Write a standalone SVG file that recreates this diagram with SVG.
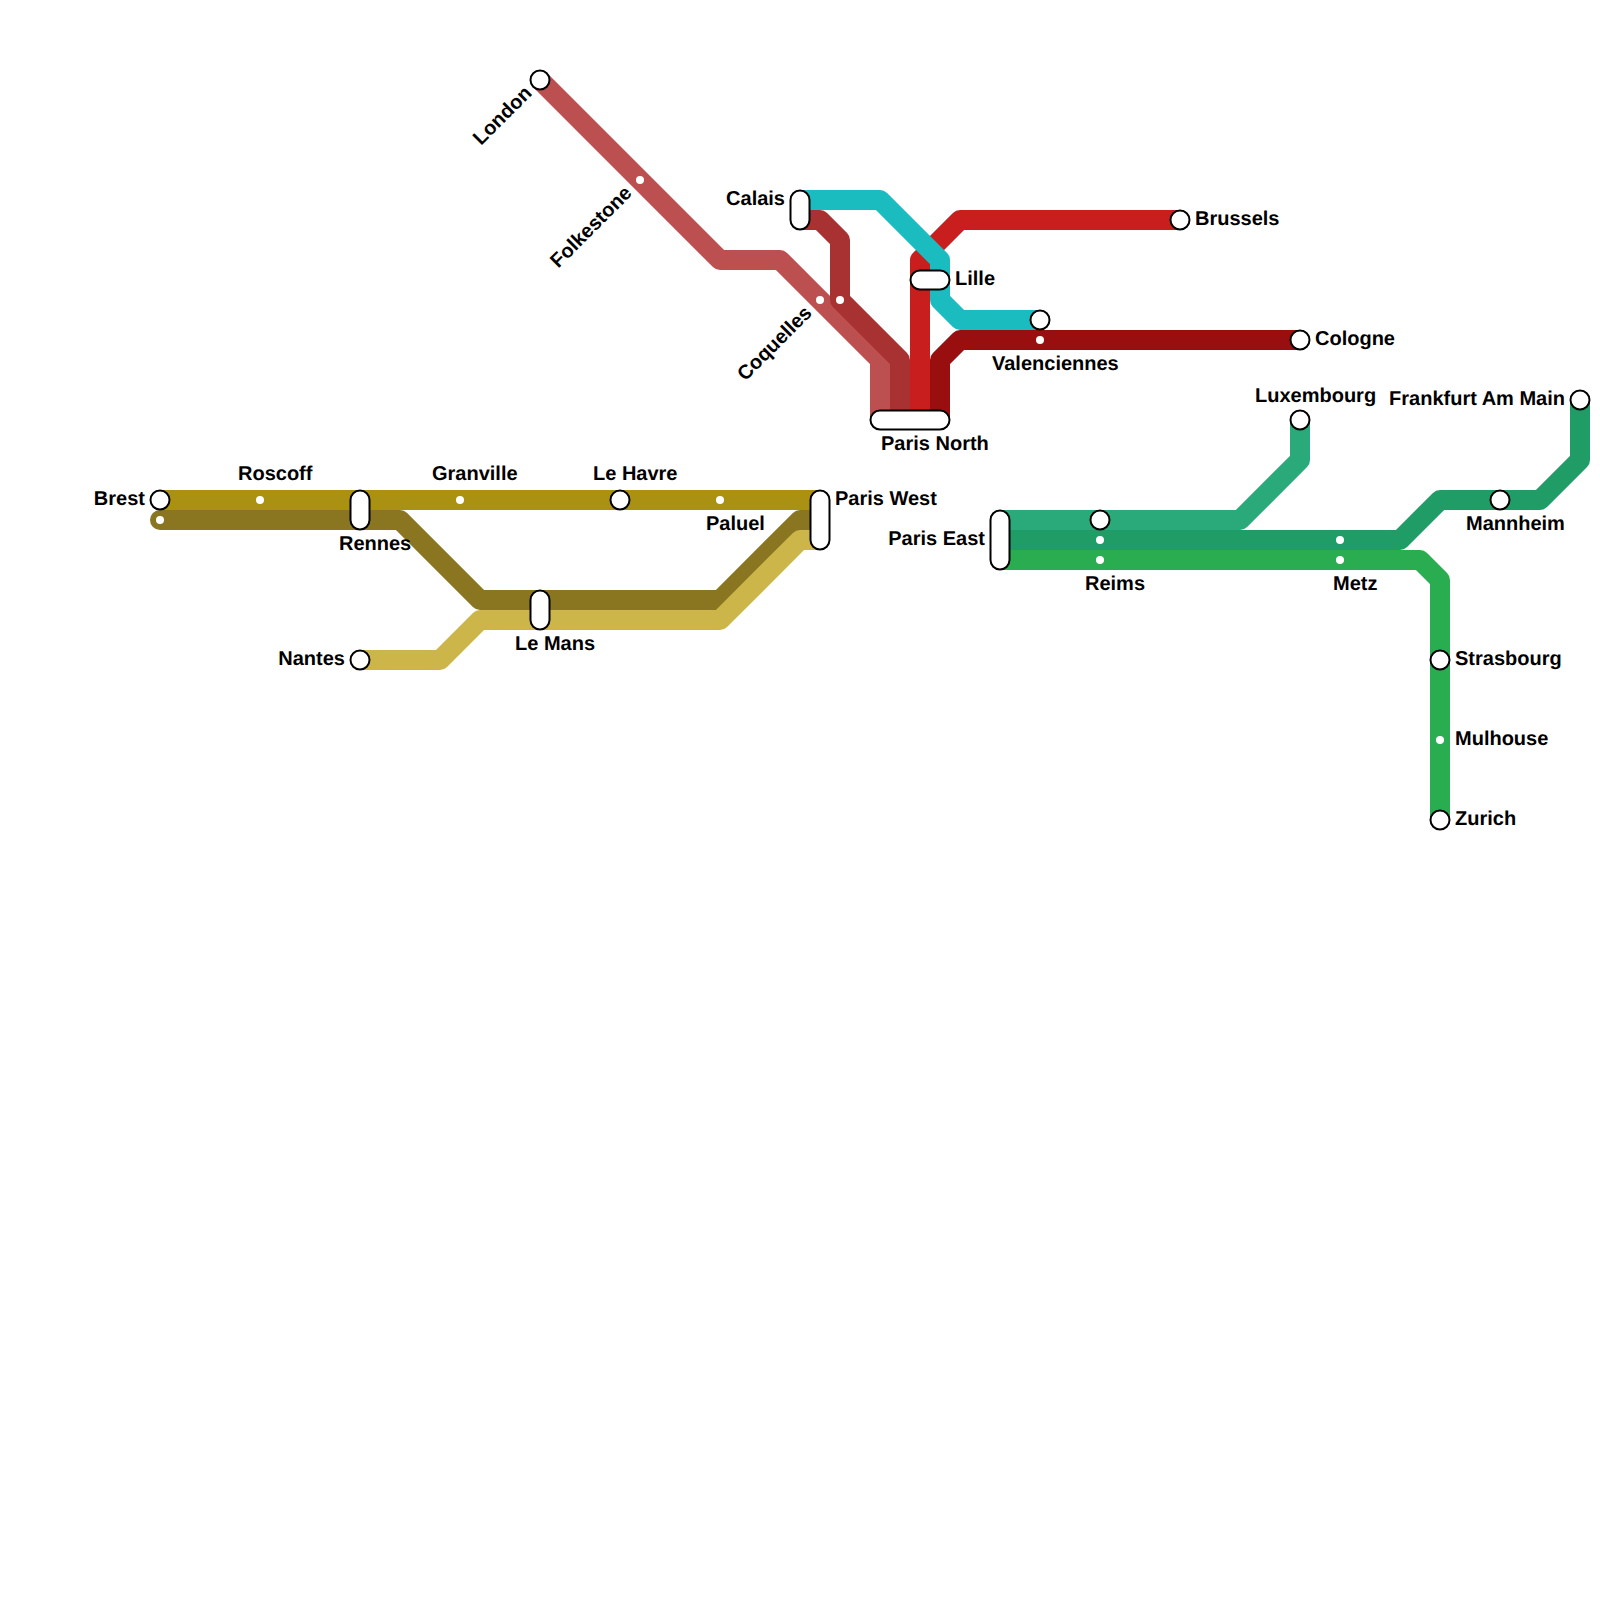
<svg xmlns="http://www.w3.org/2000/svg" width="1600" height="1600" viewBox="0 0 1600 1600">
<style>
.l{fill:none;stroke-width:20;stroke-linecap:round;stroke-linejoin:round}
.s{fill:#fff;stroke:#000;stroke-width:2}
.d{fill:#fff}
text{font-family:"Liberation Sans",Arial,sans-serif;font-weight:700;font-size:20px;fill:#000;text-rendering:geometricPrecision}
.e{text-anchor:end}
</style>
<rect width="1600" height="1600" fill="#fff"/>
<g id="connectors">
<path class="l" stroke="#aa9112" d="M160 500H820"/>
<path class="l" stroke="#8a7620" d="M160 520H400L480 600H720L800 520H820"/>
<path class="l" stroke="#ccb649" d="M360 660H440L480 620H720L800 540H820"/>
<path class="l" stroke="#bc4f4f" d="M540 80L720 260H780L880 360V420"/>
<path class="l" stroke="#a83232" d="M800 220H820L840 240V300L900 360V420"/>
<path class="l" stroke="#c81e1e" d="M1180 220H960L920 260V420"/>
<path class="l" stroke="#990f0f" d="M1300 340H960L940 360V420"/>
<path class="l" stroke="#1abcc0" d="M800 200H880L940 260V300L960 320H1040"/>
<path class="l" stroke="#2aaa7a" d="M1000 520H1240L1300 460V420"/>
<path class="l" stroke="#209c66" d="M1000 540H1400L1440 500H1540L1580 460V400"/>
<path class="l" stroke="#2aad50" d="M1000 560H1420L1440 580V820"/>
</g>
<g id="brest"><circle class="s" cx="160" cy="500" r="9.5"/><circle class="d" cx="160" cy="520" r="4"/><text class="e" x="145" y="505">Brest</text></g>
<g id="roscoff"><circle class="d" cx="260" cy="500" r="4"/><text x="238" y="480">Roscoff</text></g>
<g id="rennes"><rect class="s" x="350.500" y="490.500" width="19" height="39" rx="9.500"/><text x="339" y="550">Rennes</text></g>
<g id="granville"><circle class="d" cx="460" cy="500" r="4"/><text x="432" y="480">Granville</text></g>
<g id="le-havre"><circle class="s" cx="620" cy="500" r="9.500"/><text x="593" y="480">Le Havre</text></g>
<g id="paluel"><circle class="d" cx="720" cy="500" r="4"/><text x="706" y="530">Paluel</text></g>
<g id="paris-west"><rect class="s" x="810.500" y="490.500" width="19" height="59" rx="9.500"/><text x="835" y="505">Paris West</text></g>
<g id="nantes"><circle class="s" cx="360" cy="660" r="9.500"/><text class="e" x="345" y="665">Nantes</text></g>
<g id="le-mans"><rect class="s" x="530.500" y="590.500" width="19" height="39" rx="9.500"/><text x="515" y="650">Le Mans</text></g>
<g id="london"><circle class="s" cx="540" cy="80" r="9.500"/><text class="e" x="525" y="85" transform="rotate(-45 540 80)">London</text></g>
<g id="folkestone"><circle class="d" cx="640" cy="180" r="4"/><text class="e" x="625" y="185" transform="rotate(-45 640 180)">Folkestone</text></g>
<g id="coquelles"><circle class="d" cx="820" cy="300" r="4"/><circle class="d" cx="840" cy="300" r="4"/><text class="e" x="805" y="305" transform="rotate(-45 820 300)">Coquelles</text></g>
<g id="calais"><rect class="s" x="790.500" y="190.500" width="19" height="39" rx="9.500"/><text class="e" x="785" y="205">Calais</text></g>
<g id="lille"><rect class="s" x="910.500" y="270.500" width="39" height="19" rx="9.500"/><text x="955" y="285">Lille</text></g>
<g id="paris-north"><rect class="s" x="870.500" y="410.500" width="79" height="19" rx="9.500"/><text x="881" y="450">Paris North</text></g>
<g id="valenciennes"><circle class="s" cx="1040" cy="320" r="9.500"/><circle class="d" cx="1040" cy="340" r="4"/><text x="992" y="370">Valenciennes</text></g>
<g id="brussels"><circle class="s" cx="1180" cy="220" r="9.500"/><text x="1195" y="225">Brussels</text></g>
<g id="cologne"><circle class="s" cx="1300" cy="340" r="9.500"/><text x="1315" y="345">Cologne</text></g>
<g id="paris-east"><rect class="s" x="990.500" y="510.500" width="19" height="59" rx="9.500"/><text class="e" x="985" y="545">Paris East</text></g>
<g id="reims"><circle class="s" cx="1100" cy="520" r="9.500"/><circle class="d" cx="1100" cy="540" r="4"/><circle class="d" cx="1100" cy="560" r="4"/><text x="1085" y="590">Reims</text></g>
<g id="metz"><circle class="d" cx="1340" cy="540" r="4"/><circle class="d" cx="1340" cy="560" r="4"/><text x="1333" y="590">Metz</text></g>
<g id="luxembourg"><circle class="s" cx="1300" cy="420" r="9.500"/><text x="1255" y="402">Luxembourg</text></g>
<g id="frankfurt"><circle class="s" cx="1580" cy="400" r="9.500"/><text class="e" x="1565" y="405">Frankfurt Am Main</text></g>
<g id="mannheim"><circle class="s" cx="1500" cy="500" r="9.500"/><text x="1466" y="530">Mannheim</text></g>
<g id="strasbourg"><circle class="s" cx="1440" cy="660" r="9.500"/><text x="1455" y="665">Strasbourg</text></g>
<g id="mulhouse"><circle class="d" cx="1440" cy="740" r="4"/><text x="1455" y="745">Mulhouse</text></g>
<g id="zurich"><circle class="s" cx="1440" cy="820" r="9.500"/><text x="1455" y="825">Zurich</text></g>
</svg>
